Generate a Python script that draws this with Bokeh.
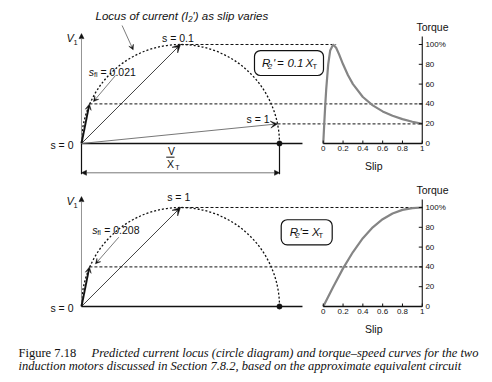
import numpy as np
from bokeh.plotting import figure
from bokeh.models import Range1d, Arrow, VeeHead, NormalHead, BoxAnnotation
from bokeh.core.properties import value
from bokeh.embed import file_html
from bokeh.resources import INLINE

# ---------------- data ----------------
# circle diagram: x = fraction of V/X_T, y = torque (% of maximum)
diameter = 1.0  # V / X_T
top_locus_x = [0.0, 0.04, 0.5, 0.99]          # s = 0, s_fl = 0.021, s = 0.1, s = 1
top_locus_torque = [0.0, 40.0, 100.0, 19.8]
bot_locus_x = [0.0, 0.04, 0.5]                # s = 0, s_fl = 0.208, s = 1
bot_locus_torque = [0.0, 40.0, 100.0]

# torque-slip curves
top_slip = [0, 0.01, 0.02, 0.03, 0.05, 0.07, 0.1, 0.13, 0.16, 0.2, 0.25, 0.3,
            0.4, 0.5, 0.6, 0.7, 0.8, 0.9, 1.0]
top_torque = [0, 19.8, 38.5, 55, 80, 94, 100, 96.7, 90, 80, 69, 60,
              47, 38.5, 32.4, 28, 24.6, 22, 19.8]
bot_slip = [0, 0.1, 0.2, 0.3, 0.4, 0.5, 0.6, 0.7, 0.8, 0.9, 1.0]
bot_torque = [0, 19.8, 38.5, 55, 69, 80, 88.2, 94, 97.6, 99.4, 100]

torque_ticks = [0, 20, 40, 60, 80, 100]
torque_tick_labels = ["0", "20", "40", "60", "80", "100%"]
slip_ticks = [0, 0.2, 0.4, 0.6, 0.8, 1.0]
slip_tick_labels = ["0", "0.2", "0.4", "0.6", "0.8", "1"]

# dashed projection lines: (locus point index, slip where the line ends)
top_dashes = [(2, 0.13), (1, 1.0), (3, 1.0)]
bot_dashes = [(2, 1.0), (1, 1.0)]

# ---------------- figure ----------------
X0, X1 = -0.40909, 2.07576
SLIP0_X, SLIP_SPAN = 1.221, 0.5
p = figure(width=492, height=382, output_backend="svg", toolbar_location=None,
           x_range=Range1d(X0, X1), y_range=Range1d(-241.41, 144.44),
           x_axis_type=None, y_axis_type=None, min_border=0)
p.outline_line_color = None
p.xgrid.visible = False
p.ygrid.visible = False
p.background_fill_color = "white"
p.border_fill_color = "white"
p.extra_x_ranges = {"slip": Range1d((X0 - SLIP0_X) / SLIP_SPAN, (X1 - SLIP0_X) / SLIP_SPAN)}
p.extra_y_ranges = {"bot": Range1d(-76.77, 309.09)}

INK = "#111111"
SANS = "Liberation Sans"


def T(x, y, s, size=10.5, yr="default", xr="default", align="left", base="middle",
      style="normal", font=SANS, color=INK):
    p.text(x=[x], y=[y], text=[s], text_font=value(font), text_font_size=f"{size}px",
           text_font_style=style, text_align=align, text_baseline=base, text_color=color,
           x_range_name=xr, y_range_name=yr)


def arrow(x0, y0, x1, y1, yr="default", width=0.9, color=INK, head=6, both=False, kind="vee"):
    H = VeeHead if kind == "vee" else NormalHead
    end = H(size=head, fill_color=INK, line_color=INK, line_width=0.5)
    start = H(size=head, fill_color=INK, line_color=INK, line_width=0.5) if both else None
    p.add_layout(Arrow(x_start=x0, y_start=y0, x_end=x1, y_end=y1, end=end, start=start,
                       line_color=color, line_width=width, y_range_name=yr))


def box(left, right, bottom, top, yr="default"):
    p.add_layout(BoxAnnotation(left=left, right=right, bottom=bottom, top=top,
                               fill_color="white", fill_alpha=1.0, line_color=INK,
                               line_alpha=1.0, line_width=1.2, border_radius=6,
                               level="underlay", y_range_name=yr))


def panel(yr, lx, lt, slip, torque, dashes):
    # locus circle (upper half)
    p.arc(x=diameter / 2, y=0, radius=diameter / 2, start_angle=0, end_angle=np.pi,
          line_color=INK, line_width=1.3, line_dash="2 2", y_range_name=yr)
    # voltage axis
    arrow(0, 0, 0, 111, yr=yr, width=0.9, color="#888888", head=5, kind="normal")
    # horizontal axis and end dot
    p.line([0, 1.116 * diameter], [0, 0], line_color=INK, line_width=1.6, y_range_name=yr)
    p.scatter([diameter], [0], size=5, color=INK, y_range_name=yr)
    # current phasors
    styles = {1: (1.9, INK, 6), 2: (0.8, INK, 8), 3: (1.0, "#777777", 7)}
    for i in range(1, len(lx)):
        w, c, h = styles[i]
        arrow(0, 0, lx[i], lt[i], yr=yr, width=w, color=c, head=h)
    # dashed projections to the torque axis
    for i, s_end in dashes:
        p.line([lx[i], SLIP0_X + SLIP_SPAN * s_end], [lt[i], lt[i]], line_color=INK,
               line_width=1.0, line_dash="3 2", y_range_name=yr)
    # torque-slip curve
    p.line(slip, torque, line_color="#858585", line_width=2.2, x_range_name="slip",
           y_range_name=yr)
    # torque axis
    p.line([1, 1], [0, 108], line_color=INK, line_width=1.1, x_range_name="slip", y_range_name=yr)
    p.segment(x0=[0.965] * len(torque_ticks), y0=torque_ticks, x1=[1.0] * len(torque_ticks),
              y1=torque_ticks, line_color=INK, line_width=1, x_range_name="slip", y_range_name=yr)
    p.text(x=[1.032] * len(torque_ticks), y=torque_ticks, text=torque_tick_labels,
           text_font=value(SANS), text_font_size="8px", text_baseline="middle",
           text_align="left", text_color=INK, x_range_name="slip", y_range_name=yr)
    # slip axis
    p.line([0, 1], [0, 0], line_color=INK, line_width=1.3, x_range_name="slip", y_range_name=yr)
    p.segment(x0=slip_ticks, y0=[0] * len(slip_ticks), x1=slip_ticks, y1=[3] * len(slip_ticks),
              line_color=INK, line_width=1, x_range_name="slip", y_range_name=yr)
    p.text(x=slip_ticks, y=[-5.3] * len(slip_ticks), text=slip_tick_labels,
           text_font=value(SANS), text_font_size="8px", text_baseline="middle",
           text_align="center", text_color=INK, x_range_name="slip", y_range_name=yr)
    T(1.103, 118, "Torque", size=10.5, xr="slip", yr=yr, align="center")
    T(0.51, -22.5, "Slip", size=10.5, xr="slip", yr=yr, align="center")
    # labels on the circle diagram
    T(-0.057, 106.6, "V", size=11, yr=yr, align="center", style="italic")
    T(-0.030, 102.3, "1", size=7.5, yr=yr, align="center")
    T(-0.0404, -1.5, "s = 0", size=10.5, yr=yr, align="right")


# ---------------- top panel ----------------
panel("default", top_locus_x, top_locus_torque, top_slip, top_torque, top_dashes)
p.segment(x0=[0, diameter], y0=[0, 0], x1=[0, diameter], y1=[-31, -31],
          line_color=INK, line_width=1.2)
arrow(0, -29.6, diameter, -29.6, width=0.8, color="#555555", head=5, both=True, kind="normal")
T(0.4545, -7.8, "V", size=10.5, align="center")
p.line([0.4278, 0.4697], [-13.8, -13.8], line_color=INK, line_width=1)
T(0.4495, -20.5, "X", size=10.5, align="center")
T(0.4848, -24.5, "T", size=7, align="center")

T(0.0707, 128.3, "Locus of current (I\u2082\u2032) as slip varies", size=11.5, style="italic")
arrow(0.205, 119.2, 0.261, 94.6, width=0.7, color="#444444", head=5)
T(0.487, 107, "s = 0.1", size=10.5, align="center")
T(0.0369, 72.7, "s", size=10.5, style="italic")
T(0.0631, 70.0, "fl", size=7)
T(0.096, 72.7, "= 0.021", size=10.5)
arrow(0.1717, 68.7, 0.0606, 42.4, width=0.7, color="#444444", head=5)
T(0.8914, 24.9, "s = 1", size=10.5, align="center")

box(0.8737, 1.2222, 68.7, 93.9)
T(0.9116, 81.1, "R", size=11.5, style="italic")
T(0.9419, 77.6, "2", size=7.5, style="italic")
T(0.9672, 81.6, "'", size=11.5, style="italic")
T(0.9874, 81.1, "=", size=11.5, style="italic")
T(1.0404, 81.1, "0.1", size=11.5, style="italic")
T(1.1313, 81.1, "X", size=11.5, style="italic")
T(1.1667, 77.6, "T", size=7.5)

# ---------------- bottom panel ----------------
panel("bot", bot_locus_x, bot_locus_torque, bot_slip, bot_torque, bot_dashes)
T(0.491, 110.4, "s = 1", size=10.5, yr="bot", align="center")
T(0.054, 77.5, "s", size=10.5, yr="bot", style="italic")
T(0.0795, 74.8, "fl", size=7, yr="bot")
T(0.1145, 77.5, "= 0.208", size=10.5, yr="bot")
arrow(0.1884, 70.0, 0.0707, 43.1, yr="bot", width=0.7, color="#444444", head=5)

box(1.0086, 1.2662, 62.3, 87.6, yr="bot")
T(1.052, 75.0, "R", size=11.5, yr="bot", style="italic")
T(1.0808, 71.6, "2", size=7.5, yr="bot", style="italic")
T(1.101, 75.5, "'", size=11.5, yr="bot", style="italic")
T(1.1136, 75.0, "=", size=11.5, yr="bot")
T(1.1641, 75.0, "X", size=11.5, yr="bot", style="italic")
T(1.197, 71.6, "T", size=7.5, yr="bot")

# ---------------- caption ----------------
SERIF = "Liberation Serif"
T(-0.3182, -211.6, "Figure 7.18", size=12.5, font=SERIF)
T(0.0505, -211.6, "Predicted current locus (circle diagram) and torque\u2013speed curves for the two",
  size=12.5, font=SERIF, style="italic")
T(-0.3182, -224.8, "induction motors discussed in Section 7.8.2, based on the approximate equivalent circuit",
  size=12.5, font=SERIF, style="italic")

open("out.html", "w").write(file_html(p, INLINE))
